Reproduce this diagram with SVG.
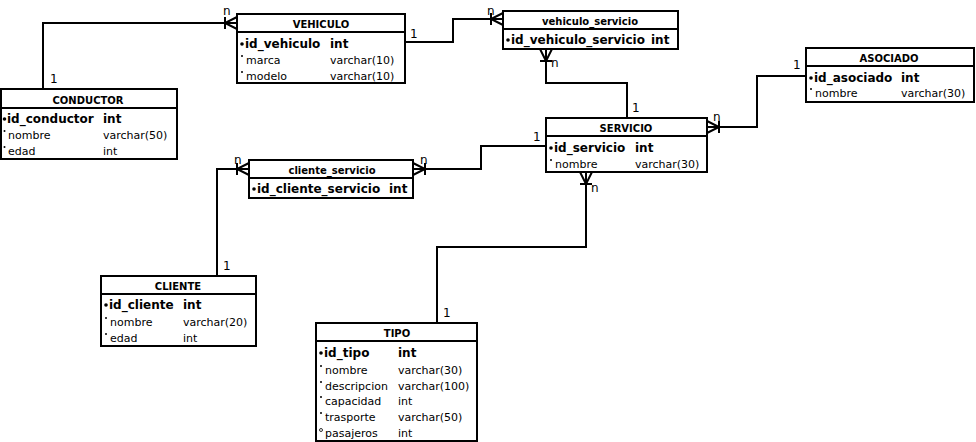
<svg xmlns="http://www.w3.org/2000/svg" width="976" height="442" viewBox="0 0 976 442">
  <style>
    .box { fill: #ffffff; stroke: #000; stroke-width: 2; }
    .sep { stroke: #000; stroke-width: 2; }
    .title { font-family: "DejaVu Sans", Verdana, sans-serif; font-size: 10px; font-weight: bold; text-anchor: middle; fill: #000; }
    .key { font-family: "DejaVu Sans", Verdana, sans-serif; font-size: 12px; font-weight: bold; fill: #000; }
    .attr { font-family: "DejaVu Sans", Verdana, sans-serif; font-size: 11px; fill: #000; }
    .card { font-family: "DejaVu Sans", Verdana, sans-serif; font-size: 12px; fill: #000; }
    .link { fill: none; stroke: #000; stroke-width: 2; }
    .crow { fill: none; stroke: #000; stroke-width: 2; }
    .kdot { fill: #000; }
    .dot { fill: #000; }
    .odot { fill: none; stroke: #000; stroke-width: 0.8; }
  </style>
  <defs>
    <!-- crow's foot: origin on the table edge, +x points away from the table -->
    <g id="crow">
      <path class="crow" d="M0,-6 L12,0 L0,6 M12,-6 V6"/>
    </g>
  </defs>

  <rect width="976" height="442" fill="#ffffff"/>

  <g id="connectors">
    <path class="link" d="M43,88 V23 H237"/>
    <use href="#crow" transform="translate(237,23) rotate(180)"/>
    <text class="card" x="50" y="83">1</text>
    <text class="card" x="223" y="15">n</text>

    <path class="link" d="M405,42 H453 V19 H503"/>
    <use href="#crow" transform="translate(503,19) rotate(180)"/>
    <text class="card" x="410" y="38">1</text>
    <text class="card" x="487" y="15">n</text>

    <path class="link" d="M546,49 V83 H627 V118"/>
    <use href="#crow" transform="translate(546,49) rotate(90)"/>
    <text class="card" x="551" y="67">n</text>
    <text class="card" x="632" y="112">1</text>

    <path class="link" d="M806,76 H757 V127 H707"/>
    <use href="#crow" transform="translate(707,127) rotate(0)"/>
    <text class="card" x="793" y="69">1</text>
    <text class="card" x="713" y="121">n</text>

    <path class="link" d="M413,169 H481 V146 H546"/>
    <use href="#crow" transform="translate(413,169) rotate(0)"/>
    <text class="card" x="533" y="141">1</text>
    <text class="card" x="420" y="164">n</text>

    <path class="link" d="M217,276 V169 H249"/>
    <use href="#crow" transform="translate(249,169) rotate(180)"/>
    <text class="card" x="223" y="270">1</text>
    <text class="card" x="234" y="164">n</text>

    <path class="link" d="M437,323 V247 H586 V172"/>
    <use href="#crow" transform="translate(586,172) rotate(90)"/>
    <text class="card" x="591" y="192">n</text>
    <text class="card" x="443" y="317">1</text>
  </g>

  <g id="conductor">
    <rect class="box" x="1" y="89" width="176" height="70"/>
    <line class="sep" x1="1" y1="108" x2="177" y2="108"/>
    <text class="title" x="88" y="104">CONDUCTOR</text>
    <circle class="kdot" cx="4.5" cy="119" r="1.8"/>
    <text class="key" x="7" y="123">id_conductor</text>
    <text class="key" x="103" y="123">int</text>
    <circle class="dot" cx="4.5" cy="131" r="1"/>
    <text class="attr" x="8" y="139">nombre</text>
    <text class="attr" x="103" y="139">varchar(50)</text>
    <circle class="dot" cx="4.5" cy="147" r="1"/>
    <text class="attr" x="8" y="155">edad</text>
    <text class="attr" x="103" y="155">int</text>
  </g>

  <g id="vehiculo">
    <rect class="box" x="237" y="14" width="168" height="69"/>
    <line class="sep" x1="237" y1="32" x2="405" y2="32"/>
    <text class="title" x="321" y="28">VEHICULO</text>
    <circle class="kdot" cx="242" cy="44" r="1.8"/>
    <text class="key" x="245" y="48">id_vehiculo</text>
    <text class="key" x="330" y="48">int</text>
    <circle class="dot" cx="242" cy="56" r="1"/>
    <text class="attr" x="246" y="64">marca</text>
    <text class="attr" x="330" y="64">varchar(10)</text>
    <circle class="dot" cx="242" cy="72" r="1"/>
    <text class="attr" x="246" y="80">modelo</text>
    <text class="attr" x="330" y="80">varchar(10)</text>
  </g>

  <g id="vehiculo_servicio">
    <rect class="box" x="503" y="11" width="175" height="38"/>
    <line class="sep" x1="503" y1="29" x2="678" y2="29"/>
    <text class="title" x="590" y="25">vehiculo_servicio</text>
    <circle class="kdot" cx="508" cy="40" r="1.8"/>
    <text class="key" x="511" y="44">id_vehiculo_servicio</text>
    <text class="key" x="651" y="44">int</text>
  </g>

  <g id="asociado">
    <rect class="box" x="806" y="48" width="168" height="54"/>
    <line class="sep" x1="806" y1="66" x2="974" y2="66"/>
    <text class="title" x="889" y="62">ASOCIADO</text>
    <circle class="kdot" cx="811" cy="78" r="1.8"/>
    <text class="key" x="814" y="82">id_asociado</text>
    <text class="key" x="901" y="82">int</text>
    <circle class="dot" cx="811" cy="89" r="1"/>
    <text class="attr" x="815" y="97">nombre</text>
    <text class="attr" x="901" y="97">varchar(30)</text>
  </g>

  <g id="servicio">
    <rect class="box" x="546" y="118" width="161" height="54"/>
    <line class="sep" x1="546" y1="136" x2="707" y2="136"/>
    <text class="title" x="626" y="132">SERVICIO</text>
    <circle class="kdot" cx="551" cy="148" r="1.8"/>
    <text class="key" x="554" y="152">id_servicio</text>
    <text class="key" x="635" y="152">int</text>
    <circle class="dot" cx="551" cy="160" r="1"/>
    <text class="attr" x="555" y="168">nombre</text>
    <text class="attr" x="635" y="168">varchar(30)</text>
  </g>

  <g id="cliente_servicio">
    <rect class="box" x="249" y="160" width="164" height="38"/>
    <line class="sep" x1="249" y1="178" x2="413" y2="178"/>
    <text class="title" x="332" y="174">cliente_servicio</text>
    <circle class="kdot" cx="254" cy="189" r="1.8"/>
    <text class="key" x="257" y="193">id_cliente_servicio</text>
    <text class="key" x="389" y="193">int</text>
  </g>

  <g id="cliente">
    <rect class="box" x="101" y="276" width="155" height="70"/>
    <line class="sep" x1="101" y1="294" x2="256" y2="294"/>
    <text class="title" x="178" y="290">CLIENTE</text>
    <circle class="kdot" cx="106" cy="305" r="1.8"/>
    <text class="key" x="109" y="309">id_cliente</text>
    <text class="key" x="183" y="309">int</text>
    <circle class="dot" cx="106" cy="318" r="1"/>
    <text class="attr" x="110" y="326">nombre</text>
    <text class="attr" x="183" y="326">varchar(20)</text>
    <circle class="dot" cx="106" cy="334" r="1"/>
    <text class="attr" x="110" y="342">edad</text>
    <text class="attr" x="183" y="342">int</text>
  </g>

  <g id="tipo">
    <rect class="box" x="316" y="323" width="161" height="118"/>
    <line class="sep" x1="316" y1="341" x2="477" y2="341"/>
    <text class="title" x="397" y="337">TIPO</text>
    <circle class="kdot" cx="321" cy="353" r="1.8"/>
    <text class="key" x="324" y="357">id_tipo</text>
    <text class="key" x="398" y="357">int</text>
    <circle class="dot" cx="321" cy="366" r="1"/>
    <text class="attr" x="325" y="374">nombre</text>
    <text class="attr" x="398" y="374">varchar(30)</text>
    <circle class="dot" cx="321" cy="382" r="1"/>
    <text class="attr" x="325" y="390">descripcion</text>
    <text class="attr" x="398" y="390">varchar(100)</text>
    <circle class="dot" cx="321" cy="397" r="1"/>
    <text class="attr" x="325" y="405">capacidad</text>
    <text class="attr" x="398" y="405">int</text>
    <circle class="dot" cx="321" cy="413" r="1"/>
    <text class="attr" x="325" y="421">trasporte</text>
    <text class="attr" x="398" y="421">varchar(50)</text>
    <circle class="odot" cx="321" cy="430" r="1.5"/>
    <text class="attr" x="325" y="437">pasajeros</text>
    <text class="attr" x="398" y="437">int</text>
  </g>
</svg>
